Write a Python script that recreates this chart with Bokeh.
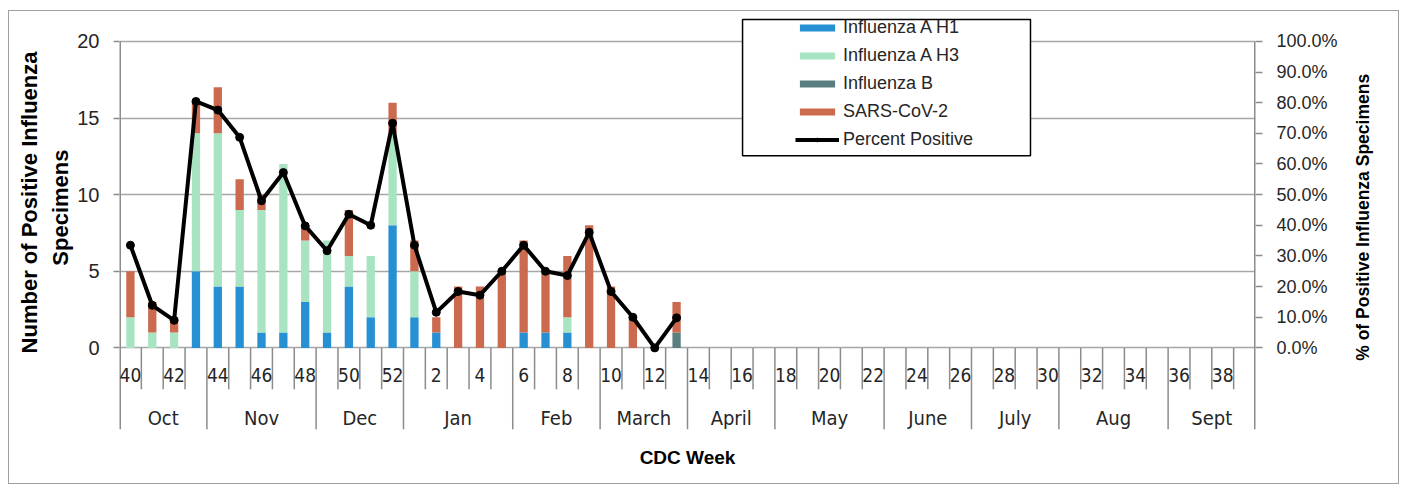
import numpy as np
from bokeh.plotting import figure
from bokeh.layouts import row
from bokeh.models import (ColumnDataSource, Range1d, LinearAxis, FixedTicker,
                          PrintfTickFormatter, Legend, LegendItem, BoxAnnotation, Title)
from bokeh.core.properties import value
from bokeh.embed import file_html
from bokeh.resources import INLINE

# ---------------- data ----------------
weeks = list(range(40, 53)) + list(range(1, 40))
months = ["Oct", "Nov", "Dec", "Jan", "Feb", "March", "April", "May",
          "June", "July", "Aug", "Sept"]
month_weeks = [4, 5, 4, 5, 4, 4, 4, 5, 4, 4, 5, 4]

# weeks 40..52, 1..13 observed; 14..39 empty
flu_a_h1 = [0, 0, 0, 5, 4, 4, 1, 1, 3, 1, 4, 2, 8,
            2, 1, 0, 0, 0, 1, 1, 1, 0, 0, 0, 0, 0] + [0] * 26
flu_a_h3 = [2, 1, 1, 9, 10, 5, 8, 11, 4, 6, 2, 4, 6,
            3, 0, 0, 0, 0, 0, 0, 1, 0, 0, 0, 0, 0] + [0] * 26
flu_b = [0, 0, 0, 0, 0, 0, 0, 0, 0, 0, 0, 0, 0,
         0, 0, 0, 0, 0, 0, 0, 0, 0, 0, 0, 0, 1] + [0] * 26
sars_cov2 = [3, 2, 1, 2, 3, 2, 1, 0, 1, 0, 3, 0, 2,
             2, 1, 4, 4, 5, 6, 4, 4, 8, 4, 2, 0, 2] + [0] * 26
pct_positive = [33.5, 13.9, 9.0, 80.4, 77.6, 68.7, 48.0, 57.2, 39.8, 31.7, 43.6, 40.0, 73.3,
                33.5, 11.6, 18.4, 17.2, 25.0, 33.5, 25.0, 23.6, 37.7, 18.4, 10.0, 0.0, 9.8]

series_names = ["Influenza A H1", "Influenza A H3", "Influenza B", "SARS-CoV-2"]
colors = ["#2690d2", "#a8e3c2", "#5b7f80", "#cc6a4f"]

# ---------------- figure ----------------
Y_MAX = 20
Y_TOP = 21.558          # a little head room above 20 for the legend box
Y_MIN = -5.325          # room below zero for the two-level category axis
n = len(weeks)
x = np.arange(n)
FIG_H = 472

p = figure(width=1337, height=FIG_H, output_backend="svg", toolbar_location=None,
           x_range=Range1d(-0.5, n - 0.5), y_range=Range1d(Y_MIN, Y_TOP),
           x_axis_location=None, min_border_left=110, min_border_right=91,
           min_border_top=6, min_border_bottom=52)
p.outline_line_color = None
p.background_fill_color = "white"
p.border_fill_color = "white"
p.xgrid.visible = False

p.ygrid.ticker = FixedTicker(ticks=[0, 5, 10, 15, 20])
p.ygrid.grid_line_color = "#a6a6a6"
p.ygrid.grid_line_width = 1.5

AX_COLOR = "#8c8c8c"

yax = p.yaxis[0]
yax.ticker = FixedTicker(ticks=[0, 5, 10, 15, 20])
yax.axis_line_color = None
yax.major_tick_line_color = AX_COLOR
yax.major_tick_line_width = 1.5
yax.major_tick_out = 6
yax.major_tick_in = 0
yax.minor_tick_line_color = None
yax.major_label_standoff = 14
yax.major_label_text_font = "Liberation Sans"
yax.major_label_text_font_size = "20px"
yax.major_label_text_color = "#262626"

p.extra_y_ranges = {"pct": Range1d(Y_MIN * 5, Y_TOP * 5)}
rax = LinearAxis(y_range_name="pct")
rax.ticker = FixedTicker(ticks=list(range(0, 101, 10)))
rax.formatter = PrintfTickFormatter(format="%.1f%%")
rax.axis_line_color = None
rax.major_tick_line_color = AX_COLOR
rax.major_tick_line_width = 1.5
rax.major_tick_out = 7
rax.major_tick_in = 0
rax.minor_tick_line_color = None
rax.major_label_standoff = 14
rax.major_label_text_font = "Liberation Sans"
rax.major_label_text_font_size = "18px"
rax.major_label_text_color = "#262626"
p.add_layout(rax, "right")

# left title, two lines (inner line first)
p.add_layout(Title(text="Specimens", align="right", offset=132, standoff=4,
                   text_font="Liberation Sans", text_font_style="bold",
                   text_font_size="22px", text_color="black"), "left")
p.add_layout(Title(text="Number of Positive Influenza", align="right", offset=34, standoff=4,
                   text_font="Liberation Sans", text_font_style="bold",
                   text_font_size="22px", text_color="black"), "left")

# bottom title
p.add_layout(Title(text="CDC Week", align="center", standoff=31,
                   text_font="Liberation Sans", text_font_style="bold",
                   text_font_size="19px", text_color="black"), "below")

# axis lines (stop at 20 like the reference)
p.segment(x0=[-0.5, n - 0.5], y0=[Y_MIN, Y_MIN], x1=[-0.5, n - 0.5], y1=[Y_MAX, Y_MAX],
          line_color=AX_COLOR, line_width=3)

# ---------------- bars ----------------
src = ColumnDataSource(dict(x=x, h1=flu_a_h1, h3=flu_a_h3, b=flu_b, sars=sars_cov2))
bars = p.vbar_stack(["h1", "h3", "b", "sars"], x="x", width=0.38, color=colors,
                    line_color=None, source=src)

# ---------------- percent positive line ----------------
xp = x[:len(pct_positive)]
ln = p.line(xp, pct_positive, y_range_name="pct", line_color="black", line_width=4)
sc = p.scatter(xp, pct_positive, y_range_name="pct", size=8, fill_color="black",
               line_color="black")

# ---------------- two level category axis ----------------
WEEK_TICK_END = -2.7
WEEK_LABEL_Y = -1.8
MONTH_LABEL_Y = -4.55
NARROW = value("Liberation Sans Narrow, DejaVu Sans Condensed, Liberation Sans")

month_ends = np.cumsum(month_weeks)
month_starts = month_ends - np.array(month_weeks)
sep_pos = month_ends[:-1] - 0.5
ends_set = set(int(e) for e in month_ends[:-1])
week_bounds = [b - 0.5 for b in range(1, n) if b not in ends_set]

p.segment(x0=week_bounds, y0=[0] * len(week_bounds), x1=week_bounds,
          y1=[WEEK_TICK_END] * len(week_bounds), line_color=AX_COLOR, line_width=1.5)
p.segment(x0=sep_pos, y0=[0] * len(sep_pos), x1=sep_pos,
          y1=[Y_MIN] * len(sep_pos), line_color=AX_COLOR, line_width=1.5)

even_idx = [i for i, w in enumerate(weeks) if w % 2 == 0]
p.text(x=even_idx, y=[WEEK_LABEL_Y] * len(even_idx),
       text=[str(weeks[i]) for i in even_idx],
       text_font=NARROW, text_font_size="19px",
       text_color="#262626", text_align="center", text_baseline="middle")

month_centers = month_starts + (np.array(month_weeks) - 1) / 2.0
p.text(x=list(month_centers), y=[MONTH_LABEL_Y] * len(months), text=months,
       text_font=NARROW, text_font_size="20px",
       text_color="#262626", text_align="center", text_baseline="middle")

# ---------------- legend ----------------
box = BoxAnnotation(left=28.02, right=41.2, top=21.43, bottom=12.53,
                    fill_color="white", fill_alpha=1.0, line_color="black",
                    line_width=1.5, line_alpha=1.0)
p.add_layout(box)

items = [LegendItem(label=series_names[i], renderers=[bars[i]]) for i in range(4)]
items.append(LegendItem(label="Percent Positive", renderers=[ln, sc]))
legend = Legend(items=items, location=(676, 279), orientation="vertical",
                padding=0, margin=0, spacing=7, label_height=20, glyph_height=9,
                glyph_width=44, label_standoff=4, border_line_color=None,
                background_fill_alpha=0.0, label_text_font="Liberation Sans",
                label_text_font_size="18px", label_text_color="#262626")
p.add_layout(legend, "center")

# ---------------- right-hand axis title (reads bottom to top) ----------------
pt = figure(width=52, height=FIG_H, output_backend="svg", toolbar_location=None,
            x_range=Range1d(0, 1), y_range=Range1d(0, 1),
            x_axis_location=None, y_axis_location=None, min_border=0)
pt.outline_line_color = None
pt.xgrid.visible = False
pt.ygrid.visible = False
pt.background_fill_color = "white"
pt.border_fill_color = "white"
pt.text(x=[0.31], y=[0.515], text=["% of Positive Influenza Specimens"], angle=np.pi / 2,
        text_font=value("Liberation Sans"), text_font_style="bold", text_font_size="17.5px",
        text_color="black", text_align="center", text_baseline="middle")

layout = row(p, pt, spacing=0)
layout.styles = {"border": "1px solid #a0a0a0", "margin-left": "8px", "margin-top": "10px",
                 "background-color": "white"}

open("out.html", "w").write(file_html(layout, INLINE))
